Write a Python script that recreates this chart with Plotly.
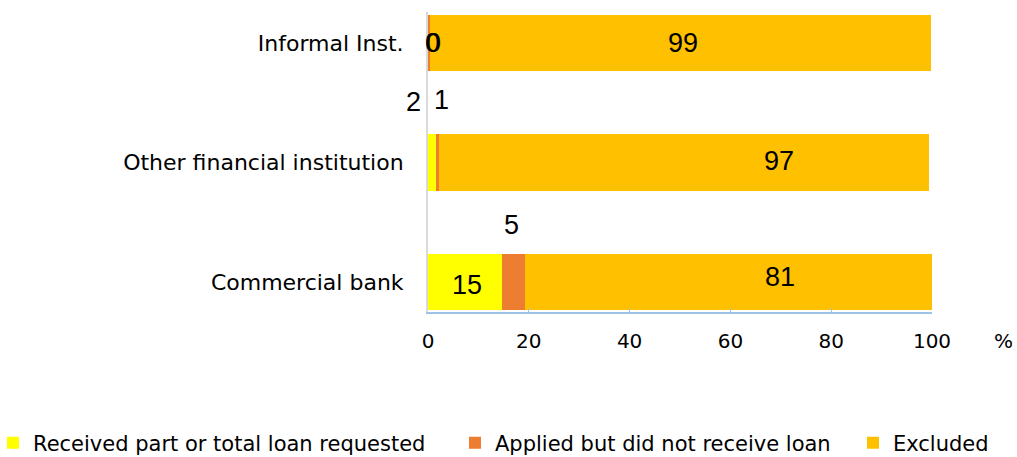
import plotly.graph_objects as go

# Share of firms by loan outcome, per type of lender (%)
categories = ["Commercial bank", "Other financial institution", "Informal Inst."]
received = [14.6, 1.6, 0.0]
applied = [4.6, 0.6, 0.4]
excluded = [80.7, 97.3, 99.4]

series_names = ["Received part or total loan requested",
                "Applied but did not receive loan",
                "Excluded"]
x_ticks = [0, 20, 40, 60, 80, 100]

colors = ["#FFFF00", "#ED7D31", "#FFC000"]
series_values = [received, applied, excluded]
legend_ids = ["legend", "legend2", "legend3"]

# Hand-placed label anchors: (x in axis units, x pixel shift, y pixel shift)
label_pos = {
    0: [(7.7, 0, -3), (0.0, -15, 60), (0.8, 0, 0)],
    1: [(16.5, 0, 57), (2.6, 0, 62), (1.0, 0, 0)],
    2: [(69.8, 0, 5), (69.6, 0, 1), (50.6, 0, 0)],
}

FONT = "DejaVu Sans"
LABEL_FONT = "Liberation Sans"
W, H = 1017, 457
L, R, T, B = 428, 85, 12, 145
PW, PH = W - L - R, H - T - B


def px_to_paper_x(px):
    return (px - L) / PW


def px_to_paper_y(py):
    return (H - B - py) / PH


def fmt(v):
    # round half up for the value labels
    return str(int(v + 0.5))


fig = go.Figure()
for i, (name, vals) in enumerate(zip(series_names, series_values)):
    fig.add_trace(go.Bar(
        y=categories, x=vals, name=name, orientation="h",
        marker=dict(color=colors[i], line=dict(width=0)),
        width=0.47, legend=legend_ids[i], hoverinfo="x+name",
    ))

annotations = []
for i, vals in enumerate(series_values):
    for j, v in enumerate(vals):
        px, xs, ys = label_pos[i][j]
        annotations.append(dict(
            x=px, y=categories[j], xref="x", yref="y",
            xanchor="center", yanchor="middle",
            text=fmt(v), showarrow=False, xshift=xs, yshift=ys,
            font=dict(family=LABEL_FONT, size=27, color="#000000"),
        ))
annotations.append(dict(
    x=px_to_paper_x(1003), y=px_to_paper_y(341), xref="paper", yref="paper",
    xanchor="center", yanchor="middle", text="%", showarrow=False,
    font=dict(family=FONT, size=20, color="#000000"),
))

legend_style = dict(orientation="h", yanchor="middle", y=px_to_paper_y(443),
                    xanchor="left", xref="paper", yref="paper",
                    bgcolor="rgba(0,0,0,0)",
                    font=dict(family=FONT, size=21, color="#000000"))
legend_left = [-7, 455, 853]

fig.update_layout(
    barmode="stack",
    width=W, height=H,
    margin=dict(l=L, r=R, t=T, b=B, autoexpand=False),
    paper_bgcolor="#FFFFFF", plot_bgcolor="#FFFFFF",
    font=dict(family=FONT, size=20, color="#000000"),
    showlegend=True,
    legend=dict(x=px_to_paper_x(legend_left[0]), **legend_style),
    legend2=dict(x=px_to_paper_x(legend_left[1]), **legend_style),
    legend3=dict(x=px_to_paper_x(legend_left[2]), **legend_style),
    xaxis=dict(
        range=[0, 100], tickvals=x_ticks, showgrid=False, zeroline=False,
        showline=True, linecolor="#9DC3E6", linewidth=2,
        ticks="inside", ticklen=4, tickcolor="#9DC3E6",
        ticklabelstandoff=10, automargin=False,
        tickfont=dict(family=FONT, size=20, color="#000000"),
    ),
    yaxis=dict(
        range=[-0.251, 2.259], showgrid=False, zeroline=False,
        showline=True, linecolor="#D9D9D9", linewidth=2,
        ticks="", ticklabelstandoff=18, automargin=False,
        tickfont=dict(family=FONT, size=22, color="#000000"),
    ),
    annotations=annotations,
)

fig.write_html("out.html")
